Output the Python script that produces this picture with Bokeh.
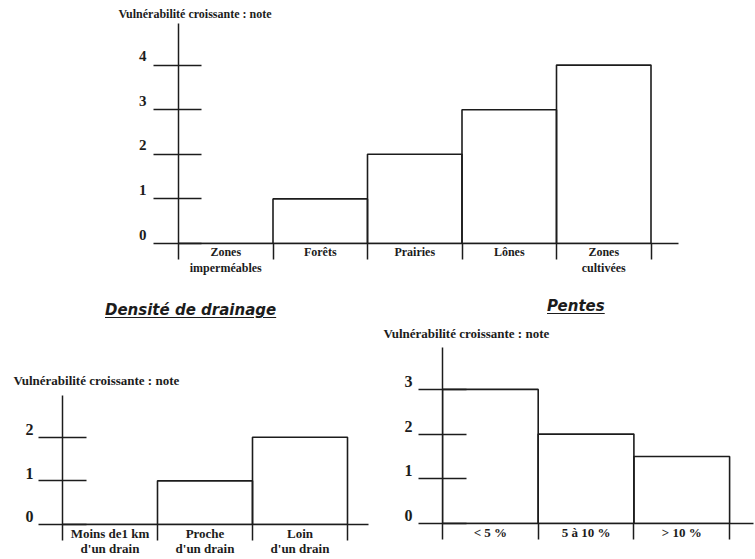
from bokeh.plotting import figure
from bokeh.models import Range1d, FixedTicker, ColumnDataSource, Div, LinearAxis
from bokeh.layouts import column, row
from bokeh.embed import file_html
from bokeh.resources import INLINE

# ---------------- data ----------------
axis_title = "Vulnérabilité croissante : note"

occ_labels = ["Zones\nimperméables", "Forêts", "Prairies", "Lônes", "Zones\ncultivées"]
occ_notes = [0, 1, 2, 3, 4]
occ_ticks = [0, 1, 2, 3, 4]

drain_title = "Densité de drainage"
drain_labels = ["Moins de1 km\nd'un drain", "Proche\nd'un drain", "Loin\nd'un drain"]
drain_notes = [0, 1, 2]
drain_ticks = [0, 1, 2]

pente_title = "Pentes"
pente_labels = ["< 5 %", "5 à 10 %", "> 10 %"]
pente_notes = [3, 2, 1.5]
pente_ticks = [0, 1, 2, 3]

INK = "#1c1c1c"
SERIF = "Liberation Serif"


def make_chart(labels, notes, yticks, width, height, frame_w, frame_h, unit_x, unit_y,
               borders, title_offset, title_size, title_standoff, tick_out, tick_in,
               ylab_size, ylab_gap, ylab_dy, xlab_size, xlab_lh):
    left, right, top, bottom = borders
    n = len(labels)
    x_end = frame_w / unit_x
    y_end = frame_h / unit_y
    p = figure(width=width, height=height,
               x_range=Range1d(0, x_end), y_range=Range1d(0, y_end),
               output_backend="svg", toolbar_location=None,
               min_border_left=left, min_border_right=right,
               min_border_top=top, min_border_bottom=bottom,
               background_fill_color="white", border_fill_color="white",
               outline_line_color=None, title=axis_title)
    p.xgrid.visible = False
    p.ygrid.visible = False

    # axis title
    p.title.align = "left"
    p.title.offset = title_offset
    p.title.standoff = title_standoff
    p.title.text_font = SERIF
    p.title.text_font_size = f"{title_size}px"
    p.title.text_font_style = "bold"
    p.title.text_color = INK

    # bars
    edges = list(range(n + 1))
    src = ColumnDataSource(dict(left=edges[:-1], right=edges[1:], top=notes))
    p.quad(left="left", right="right", bottom=0, top="top", source=src,
           fill_color=None, line_color=INK, line_width=1.6)

    # x axis: baseline, boundary ticks, category labels
    centers = [i + 0.5 for i in range(n)]
    xa = p.xaxis[0]
    xa.ticker = FixedTicker(ticks=centers, minor_ticks=edges)
    xa.major_label_overrides = {c: lab for c, lab in zip(centers, labels)}
    xa.major_tick_in = 0
    xa.major_tick_out = 0
    xa.minor_tick_in = 0
    xa.minor_tick_out = 16
    xa.minor_tick_line_color = INK
    xa.minor_tick_line_width = 1.5
    xa.axis_line_color = INK
    xa.axis_line_width = 1.5
    xa.major_label_standoff = -15
    xa.major_label_text_font = SERIF
    xa.major_label_text_font_size = f"{xlab_size}px"
    xa.major_label_text_font_style = "bold"
    xa.major_label_text_color = INK
    xa.major_label_text_line_height = xlab_lh

    # y axis: crossing tick marks (labels come from a second axis, set a little higher)
    ya = p.yaxis[0]
    ya.ticker = FixedTicker(ticks=yticks)
    ya.major_label_overrides = {t: "" for t in yticks}
    ya.major_label_standoff = 0
    ya.major_tick_out = tick_out
    ya.major_tick_in = tick_in
    ya.major_tick_line_color = INK
    ya.major_tick_line_width = 1.5
    ya.minor_tick_line_color = None
    ya.minor_tick_out = 0
    ya.minor_tick_in = 0
    ya.axis_line_color = INK
    ya.axis_line_width = 1.5

    d = ylab_dy / unit_y
    p.extra_y_ranges = {"lab": Range1d(-d, y_end - d)}
    la = LinearAxis(y_range_name="lab", ticker=FixedTicker(ticks=yticks),
                    axis_line_color=None, major_tick_line_color=None,
                    minor_tick_line_color=None, major_tick_out=0, major_tick_in=0,
                    minor_tick_out=0, minor_tick_in=0,
                    major_label_standoff=ylab_gap,
                    major_label_text_font=SERIF,
                    major_label_text_font_size=f"{ylab_size}px",
                    major_label_text_font_style="bold",
                    major_label_text_color=INK)
    p.add_layout(la, "left")
    return p


p1 = make_chart(occ_labels, occ_notes, occ_ticks, 754, 278, 500, 220, 94.5, 44.6,
                (178, 76, 23, 35), -60, 12, 5, 25, 23, 15, 7, 9, 12, 1.16)
p2 = make_chart(drain_labels, drain_notes, drain_ticks, 375, 238, 306, 133, 95, 45,
                (62, 7, 75, 30), -49, 13, 16, 24, 24, 16, 5, 8, 13, 1.0)
p3 = make_chart(pente_labels, pente_notes, pente_ticks, 379, 242, 311, 176, 95.7, 44.7,
                (67, 1, 31, 35), -59, 13, 14, 24, 24, 16, 6, 8, 13, 1.1)

span_style = ("font-family:'DejaVu Sans';font-style:italic;font-weight:bold;"
              "font-size:15px;line-height:16px;text-decoration:underline;"
              "text-underline-offset:2px;color:#1c1c1c;white-space:nowrap")
box_style = {"line-height": "16px", "font-size": "15px"}
d2 = Div(text=f'<span style="{span_style}">{drain_title}</span>', width=200, height=18,
         margin=(24, 0, 0, 105), styles=box_style)
d3 = Div(text=f'<span style="{span_style}">{pente_title}</span>', width=120, height=18,
         margin=(20, 0, 0, 172), styles=box_style)

layout = column(p1, row(column(d2, p2), column(d3, p3)))

open("out.html", "w").write(file_html(layout, INLINE))
